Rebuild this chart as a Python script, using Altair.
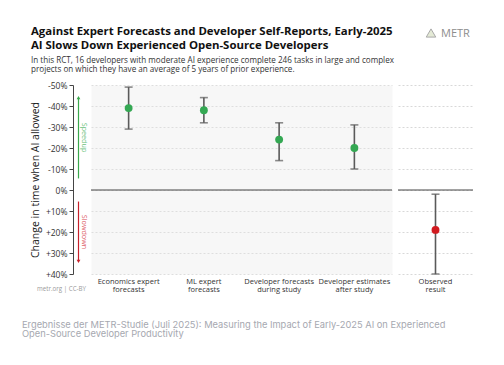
import altair as alt
import pandas as pd

# ---- data ----
categories = ["Economics expert\nforecasts", "ML expert\nforecasts",
              "Developer forecasts\nduring study", "Developer estimates\nafter study"]
values = [-39, -38, -24, -20]
lows = [-49, -44, -32, -31]
highs = [-29, -32, -14, -10]

obs_category = ["Observed\nresult"]
obs_value = [19]
obs_low = [2]
obs_high = [40]

y_ticks = [-50, -40, -30, -20, -10, 0, 10, 20, 30, 40]

speedup_span = [-44, -5.5]
slowdown_span = [5.5, 34]
speedup_label_at = [-25]
slowdown_label_at = [20]

title_lines = ["Against Expert Forecasts and Developer Self-Reports, Early-2025",
               "AI Slows Down Experienced Open-Source Developers"]
subtitle_lines = ["In this RCT, 16 developers with moderate AI experience complete 246 tasks in large and complex",
                  "projects on which they have an average of 5 years of prior experience."]
footer_lines = ["Ergebnisse der METR-Studie (Juli 2025): Measuring the Impact of Early-2025 AI on Experienced",
                "Open-Source Developer Productivity"]
credit = "metr.org | CC-BY"
logo_text = "METR"

FONT = "Open Sans"
W_LEFT, W_RIGHT, H = 301, 75, 189

df = pd.DataFrame({"cat": categories, "v": values, "lo": lows, "hi": highs})
dfo = pd.DataFrame({"cat": obs_category, "v": obs_value, "lo": obs_low, "hi": obs_high})

yscale = alt.Scale(domain=[-50, 40], reverse=True, nice=False)
label_expr = "datum.value > 0 ? '+' + datum.value + '%' : datum.value + '%'"

y_axis_left = alt.Axis(values=y_ticks, labelExpr=label_expr, title="Change in time when AI allowed",
                       offset=18, grid=True, gridDash=[2, 2], gridColor="#dedede",
                       domainColor="#444", tickColor="#444", tickSize=4, labelPadding=2,
                       labelFontSize=8.5, labelColor="#333", titleFontSize=10.5,
                       titleFontWeight="normal", titleColor="#222", titlePadding=5, labelFont=FONT,
                       titleFont=FONT, labelOverlap=False)
y_axis_right = alt.Axis(values=y_ticks, labels=False, ticks=False, domain=False, title=None,
                        grid=True, gridDash=[2, 2], gridColor="#d8d8d8")

x_axis = alt.Axis(title=None, labelAngle=0, domain=False, ticks=False, labelPadding=3,
                  labelFontSize=7.5, labelColor="#333", labelFont=FONT, labelLineHeight=8.5,
                  labelExpr="split(datum.label, '\\n')")


def panel(data, cats, yaxis, color):
    base = alt.Chart(data)
    x = alt.X("cat:N", sort=cats, axis=x_axis)
    y_of = lambda f: alt.Y(f, scale=yscale, axis=yaxis)
    zero = alt.Chart(pd.DataFrame({"z": [0]})).mark_rule(color="#444", strokeWidth=1).encode(
        y=y_of("z:Q"))
    bars = base.mark_rule(color="#5a5a5a", strokeWidth=1.6).encode(
        x=x, y=y_of("lo:Q"), y2="hi:Q")
    cap_lo = base.mark_tick(color="#5a5a5a", thickness=1.6, size=8).encode(
        x=x, y=y_of("lo:Q"))
    cap_hi = base.mark_tick(color="#5a5a5a", thickness=1.6, size=8).encode(
        x=x, y=y_of("hi:Q"))
    pts = base.mark_circle(color=color, opacity=1, size=62).encode(
        x=x, y=y_of("v:Q"))
    return [zero, bars, cap_lo, cap_hi, pts]


def text_layer(txt, x, y, size, color, weight="normal", angle=0, align="left", baseline="alphabetic",
               font=FONT):
    return alt.Chart(pd.DataFrame({"t": [txt]})).mark_text(
        align=align, baseline=baseline, fontSize=size, color=color, fontWeight=weight,
        angle=angle, font=font).encode(text="t:N", x=alt.value(x), y=alt.value(y))


ya = lambda f: alt.Y(f, scale=yscale, axis=y_axis_left)

# direction arrows
sp = pd.DataFrame({"a": [speedup_span[0]], "b": [speedup_span[1]]})
sl = pd.DataFrame({"a": [slowdown_span[0]], "b": [slowdown_span[1]]})
speed_rule = alt.Chart(sp).mark_rule(color="#3aa84c", strokeWidth=1.2).encode(
    x=alt.value(-12.5), y=ya("a:Q"), y2="b:Q")
speed_head = alt.Chart(sp).mark_point(shape="triangle-up", filled=True, color="#3aa84c", size=14,
                                      opacity=1).encode(x=alt.value(-12.5), y=ya("a:Q"))
slow_rule = alt.Chart(sl).mark_rule(color="#c8202a", strokeWidth=1.2).encode(
    x=alt.value(-12.5), y=ya("a:Q"), y2="b:Q")
slow_head = alt.Chart(sl).mark_point(shape="triangle-down", filled=True, color="#c8202a", size=14,
                                     opacity=1).encode(x=alt.value(-12.5), y=ya("b:Q"))
speed_txt = alt.Chart(pd.DataFrame({"y": speedup_label_at, "t": ["Speedup"]})).mark_text(
    angle=90, fontSize=7.2, color="#6cc27c", font=FONT, align="center", baseline="middle").encode(
    x=alt.value(-7.5), y=ya("y:Q"), text="t:N")
slow_txt = alt.Chart(pd.DataFrame({"y": slowdown_label_at, "t": ["Slowdown"]})).mark_text(
    angle=90, fontSize=7.2, color="#e0636b", font=FONT, align="center", baseline="middle").encode(
    x=alt.value(-7.5), y=ya("y:Q"), text="t:N")

annotations = [
    text_layer(title_lines[0], -60, -50, 11.4, "#111", weight="bold"),
    text_layer(title_lines[1], -60, -36.5, 11.4, "#111", weight="bold"),
    text_layer(subtitle_lines[0], -60, -22.3, 8.1, "#333"),
    text_layer(subtitle_lines[1], -60, -12.8, 8.1, "#333"),
    text_layer(logo_text, 350, -48, 11, "#8d8d8d"),
    text_layer(credit, -54, 206, 6.2, "#9a9a9a"),
    text_layer(footer_lines[0], -69, 242.5, 9.3, "#a6a8b0", font="Inter"),
    text_layer(footer_lines[1], -69, 252, 9.3, "#a6a8b0", font="Inter"),
    alt.Chart(pd.DataFrame({"k": [0]})).mark_point(shape="triangle-up", filled=True, fill="#e4ead6",
                                                   stroke="#a9a9a9", strokeWidth=1, size=90,
                                                   opacity=1).encode(
        x=alt.value(340), y=alt.value(-52)),
]

left = alt.layer(*panel(df, categories, y_axis_left, "#34a853"),
                 speed_rule, speed_head, slow_rule, slow_head, speed_txt, slow_txt,
                 *annotations).properties(
    width=W_LEFT, height=H, view=alt.ViewBackground(fill="#f7f7f7", stroke="transparent"))

right = alt.layer(*panel(dfo, obs_category, y_axis_right, "#d11a1f")).properties(
    width=W_RIGHT, height=H, view=alt.ViewBackground(fill="white", stroke="transparent"))

chart = alt.hconcat(left, right, spacing=6, bounds="flush").resolve_scale(y="shared").properties(
    padding={"left": 13, "top": 17, "right": 5, "bottom": 5},
    background="white",
).configure(font=FONT).configure_axisY(labelOverlap=False)

chart.save("out.html", embed_options={"renderer": "svg", "actions": False})
